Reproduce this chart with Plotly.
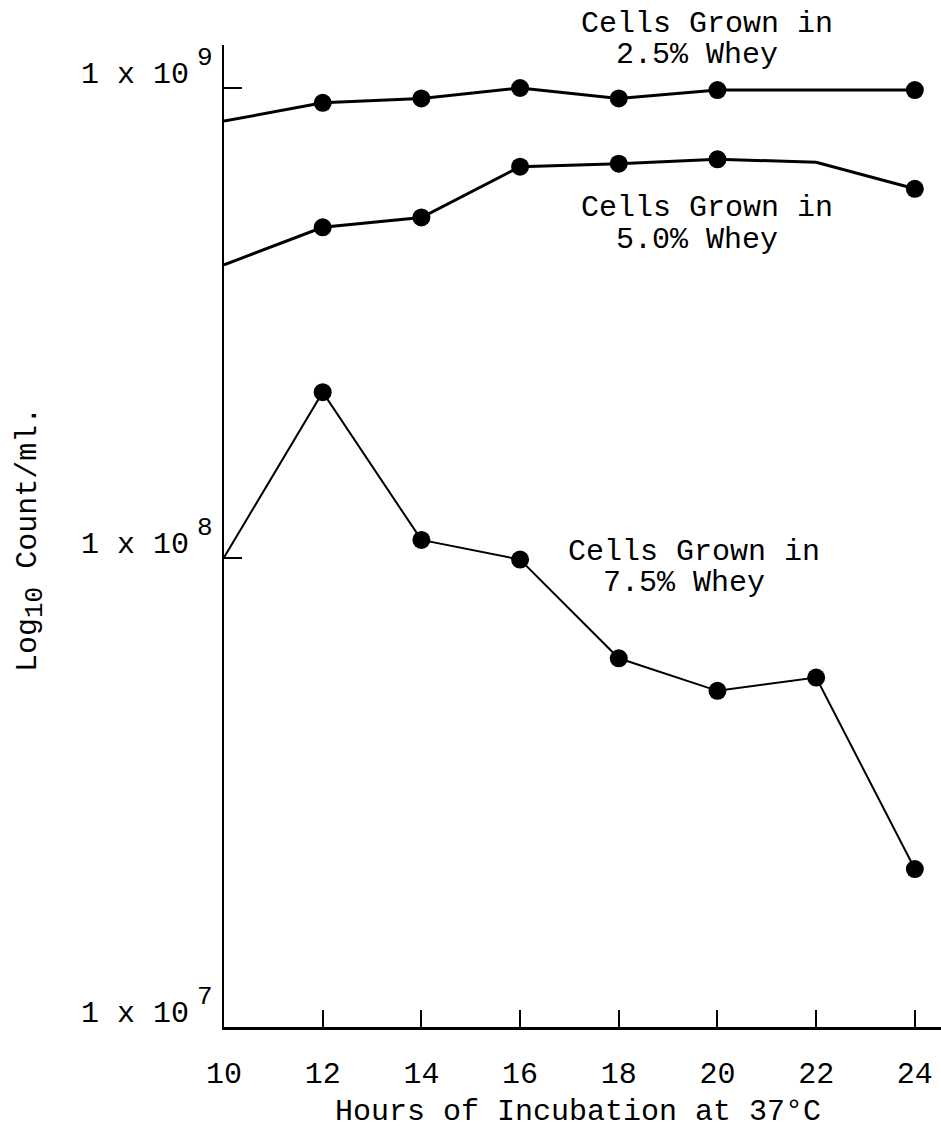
import plotly.graph_objects as go

# ---------------- data ----------------
hours = [10, 12, 14, 16, 18, 20, 22, 24]
hour_labels = ["10", "12", "14", "16", "18", "20", "22", "24"]

count_whey_2_5 = [8.5e8, 9.3e8, 9.5e8, 1.0e9, 9.5e8, 9.9e8, 9.9e8, 9.9e8]
count_whey_5_0 = [4.2e8, 5.05e8, 5.3e8, 6.8e8, 6.9e8, 7.05e8, 6.95e8, 6.1e8]
count_whey_7_5 = [1.0e8, 2.25e8, 1.09e8, 9.9e7, 6.1e7, 5.2e7, 5.55e7, 2.17e7]

marked_2_5 = [False, True, True, True, True, True, False, True]
marked_5_0 = [False, True, True, True, True, True, False, True]
marked_7_5 = [False, True, True, True, True, True, True, True]

y_powers = [7, 8, 9]

# ---------------- layout geometry ----------------
W, H = 941, 1133
L, R, T, B = 224, 0, 45, 106
PW = W - L - R
PH = H - T - B
FONT = "Liberation Mono, Courier New, monospace"
FS = 30


def px(xp):
    return (xp - L) / PW


def py(yp):
    return (H - B - yp) / PH


fig = go.Figure()

series = [
    (count_whey_2_5, marked_2_5, 3),
    (count_whey_5_0, marked_5_0, 3),
    (count_whey_7_5, marked_7_5, 2),
]
for vals, marks, lw in series:
    fig.add_trace(go.Scatter(x=hours, y=vals, mode="lines",
                             line=dict(color="black", width=lw),
                             hoverinfo="skip", showlegend=False))
    fig.add_trace(go.Scatter(
        x=[h for h, m in zip(hours, marks) if m],
        y=[v for v, m in zip(vals, marks) if m],
        mode="markers", marker=dict(color="black", size=18),
        showlegend=False))

annotations = []
# y tick labels "1 x 10^p"
for p in y_powers:
    annotations.append(dict(xref="paper", yref="y", x=0, y=p, text="1 x 10",
                            xanchor="right", yanchor="middle", xshift=-33, yshift=13,
                            showarrow=False, font=dict(family=FONT, size=FS, color="black")))
    annotations.append(dict(xref="paper", yref="y", x=0, y=p, text=str(p),
                            xanchor="left", yanchor="middle", xshift=-29, yshift=30,
                            showarrow=False, font=dict(family=FONT, size=26, color="black")))

# series labels
labels = [
    ("Cells Grown in", 707, 24), ("2.5% Whey", 697, 55),
    ("Cells Grown in", 707, 208), ("5.0% Whey", 697, 240),
    ("Cells Grown in", 694, 552), ("7.5% Whey", 684, 583),
]
for txt, xp, yp in labels:
    annotations.append(dict(xref="paper", yref="paper", x=px(xp), y=py(yp), text=txt,
                            xanchor="center", yanchor="middle", showarrow=False,
                            font=dict(family=FONT, size=FS, color="black")))

# axis titles
annotations.append(dict(xref="paper", yref="paper", x=px(578), y=py(1112),
                        text="Hours of Incubation at 37°C", xanchor="center", yanchor="middle",
                        showarrow=False, font=dict(family=FONT, size=FS, color="black")))
annotations.append(dict(xref="paper", yref="paper", x=px(30), y=py(540),
                        text="Log<sub><span style=\"font-size:26px\">10</span></sub> Count/ml.",
                        textangle=-90, xanchor="center", yanchor="middle",
                        showarrow=False, font=dict(family=FONT, size=FS, color="black")))

fig.update_layout(
    width=W, height=H,
    margin=dict(l=L, r=R, t=T, b=B, pad=0),
    paper_bgcolor="white", plot_bgcolor="white",
    showlegend=False,
    annotations=annotations,
    xaxis=dict(range=[10, 24.53], showline=True, linewidth=3, linecolor="black",
               ticks="inside", ticklen=17, tickwidth=2, tickcolor="black",
               tickvals=hours, ticktext=hour_labels, ticklabelstandoff=17,
               tickfont=dict(family=FONT, size=FS, color="black"),
               showgrid=False, zeroline=False),
    yaxis=dict(type="log", range=[7, 9.0916], showline=True, linewidth=2, linecolor="black",
               ticks="inside", ticklen=18, tickwidth=2, tickcolor="black",
               tickvals=[10 ** p for p in y_powers], showticklabels=False,
               showgrid=False, zeroline=False),
)

fig.write_html("out.html")
